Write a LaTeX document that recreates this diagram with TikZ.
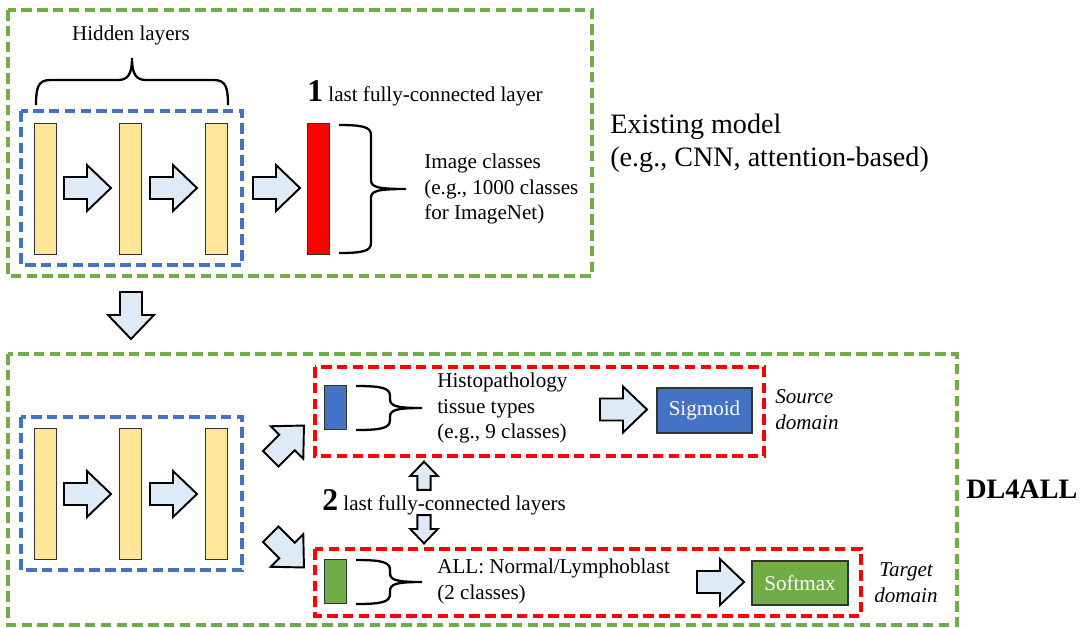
\documentclass[tikz,border=0pt]{standalone}
\usepackage{fontspec}
\setmainfont{Liberation Serif}

\definecolor{boxgreen}{HTML}{70AD47}
\definecolor{boxblue}{HTML}{4472C4}
\definecolor{layeryellow}{HTML}{FFE699}
\definecolor{arrowfill}{HTML}{DEEBF7}

\newcommand{\smalltxt}{\fontsize{12}{14.7}\selectfont}
\newcommand{\bigtxt}{\fontsize{16}{18.7}\selectfont}

% curly brace opening to the right: x left, x middle, x tip, y top, y tip, y bottom
\newcommand{\sidebrace}[6]{%
  \draw[bracestroke] (#1,#4) .. controls ({#2-8},#4) and (#2,{#4+2}) .. (#2,{#4+10})
    -- (#2,{#5-9}) .. controls (#2,{#5-2}) and ({#2+6},#5) .. (#3,#5)
    .. controls ({#2+6},#5) and (#2,{#5+2}) .. (#2,{#5+9})
    -- (#2,{#6-10}) .. controls (#2,{#6-2}) and ({#2-8},#6) .. (#1,#6);}

\tikzset{
  dashbox/.style={line width=2pt, dash pattern=on 6pt off 3pt},
  layer/.style={draw=black!80, line width=0.5pt, minimum width=0.44cm, inner sep=0pt},
  bracestroke/.style={line width=1.3pt},
  blockarrow/.pic={\draw[fill=arrowfill, line width=1.1pt, line join=miter]
    (-23,-11) -- (0,-11) -- (0,-23) -- (24,0) -- (0,23) -- (0,11) -- (-23,11) -- cycle;},
}

\begin{document}
\begin{tikzpicture}[x=0.02cm, y=-0.02cm, every node/.style={font=\smalltxt}]
  \useasboundingbox (0,0) rectangle (1085,627);

  % existing model
  \draw[dashbox, boxgreen] (8,10) rectangle (592,276);
  \draw[dashbox, boxblue] (21,111) rectangle (242,265);
  \foreach \x [count=\i] in {45,130.5,216.5}
    \node[layer, fill=layeryellow, minimum height=2.62cm] (top\i) at (\x,188.5) {};
  \foreach \x in {87,173,276} { \pic at (\x,188) {blockarrow}; }
  \node[layer, fill=red, minimum height=2.62cm] (fclast) at (318,188.5) {};

  \draw[bracestroke] (36,105) .. controls (36,88) and (38,80) .. (50,80) -- (118,80)
    .. controls (128,80) and (132,74) .. (132,58) .. controls (132,74) and (136,80) .. (146,80)
    -- (214,80) .. controls (226,80) and (228,88) .. (228,105);
  \node (hidden) at (131,35) {Hidden layers};
  \node[anchor=west, inner sep=0pt] (fcone) at (307,93) {{\fontsize{18}{20}\selectfont\bfseries 1} last fully-connected layer};
  \sidebrace{339}{371}{406}{125}{189}{253}
  \node[anchor=west, align=left, inner sep=0pt] (imgcls) at (424,189) {Image classes\\(e.g., 1000 classes\\for ImageNet)};
  \node[anchor=west, align=left, inner sep=0pt, font=\bigtxt] (existing) at (610,143.5) {Existing model\\(e.g., CNN, attention-based)};

  \pic[rotate=-90] at (131,315) {blockarrow};

  % DL4ALL
  \draw[dashbox, boxgreen] (8,354) rectangle (957,625);
  \draw[dashbox, boxblue] (21,417) rectangle (242,570);
  \foreach \x [count=\i] in {45,130.5,216.5}
    \node[layer, fill=layeryellow, minimum height=2.62cm] (bot\i) at (\x,493.5) {};
  \foreach \x in {87,173} { \pic at (\x,494) {blockarrow}; }
  \pic[rotate=45] at (287,442.5) {blockarrow};
  \pic[rotate=-45] at (287,550.5) {blockarrow};

  \draw[dashbox, red] (315,367) rectangle (764,456);
  \draw[dashbox, red] (315,549) rectangle (861,616);

  \node[layer, fill=boxblue, minimum height=0.88cm] (srcfc) at (335,407) {};
  \sidebrace{356}{390}{422}{386}{408}{430}
  \node[anchor=west, align=left, inner sep=0pt] (histo) at (437,408) {Histopathology\\tissue types\\(e.g., 9 classes)};
  \pic at (623,409.5) {blockarrow};
  \node[draw=black!80, line width=0.8pt, fill=boxblue, text=white, minimum width=1.9cm, minimum height=0.9cm] (sigmoid) at (704.5,410.5) {Sigmoid};
  \node[anchor=west, align=left, inner sep=0pt, font=\smalltxt\itshape] (source) at (775,410) {Source\\domain};

  \pic[rotate=90, scale=0.6] at (424,476) {blockarrow};
  \node[anchor=west, inner sep=0pt] (fctwo) at (322,502) {{\fontsize{18}{20}\selectfont\bfseries 2} last fully-connected layers};
  \pic[rotate=-90, scale=0.6] at (424,529) {blockarrow};

  \node[layer, fill=boxgreen, minimum height=0.88cm] (tgtfc) at (335,581) {};
  \sidebrace{356}{390}{422}{560}{582}{604}
  \node[anchor=west, align=left, inner sep=0pt] (allcls) at (437,581.5) {ALL: Normal/Lymphoblast\\(2 classes)};
  \pic at (720,582) {blockarrow};
  \node[draw=black!80, line width=0.8pt, fill=boxgreen, text=white, minimum width=1.92cm, minimum height=0.88cm] (softmax) at (800,583) {Softmax};
  \node[align=center, inner sep=0pt, font=\smalltxt\itshape] (target) at (906,583) {Target\\domain};

  \node[anchor=west, inner sep=0pt, font=\fontsize{16}{18}\selectfont\bfseries] (dlall) at (966,489) {DL4ALL};
\end{tikzpicture}
\end{document}
